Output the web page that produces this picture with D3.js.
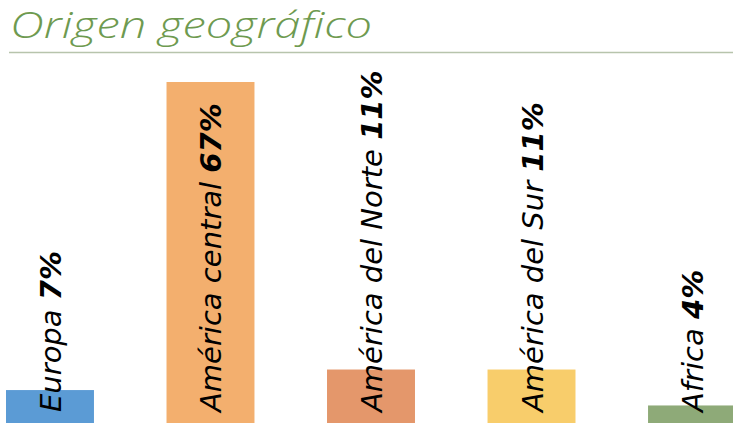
<!DOCTYPE html>
<html><head><meta charset="utf-8">
<script src="https://cdn.jsdelivr.net/npm/d3@7"></script>
<style>html,body{margin:0;padding:0;background:#fff;overflow:hidden}</style>
</head><body>
<script>
const categories = ["Europa", "América central", "América del Norte", "América del Sur", "Africa"];
const values = [7, 67, 11, 11, 4];
const valueLabels = ["7%", "67%", "11%", "11%", "4%"];
const colors = ["#5b9bd5", "#f3af6e", "#e4976b", "#f8cd6b", "#8eaa78"];
const title = "Origen geográfico";

const W = 733, H = 423;
const svg = d3.select("body").append("svg").attr("width", W).attr("height", H);

svg.append("text").attr("x", 10).attr("y", 38)
  .attr("font-family", "'Open Sans', sans-serif").attr("font-style", "italic").attr("font-weight", 300)
  .attr("font-size", 36).attr("fill", "#6e9a50")
  .attr("textLength", 362).attr("lengthAdjust", "spacingAndGlyphs").text(title);
svg.append("line").attr("x1", 9).attr("x2", W).attr("y1", 52.5).attr("y2", 52.5)
  .attr("stroke", "#b7c4ac").attr("stroke-width", 1.5);

const x = d3.scaleBand().domain(categories).range([6, 736]).paddingInner(0.452).paddingOuter(0);
const y = d3.scaleLinear().domain([0, 67]).range([426, 82]);

svg.selectAll("rect.bar").data(categories).join("rect").attr("class", "bar")
  .attr("x", d => x(d)).attr("width", x.bandwidth())
  .attr("y", (d, i) => y(values[i])).attr("height", (d, i) => y(0) - y(values[i]))
  .attr("fill", (d, i) => colors[i]);

const labels = svg.selectAll("text.lab").data(categories).join("text").attr("class", "lab")
  .attr("transform", d => `translate(${x(d) + x.bandwidth() / 2 + 11},412) rotate(-90)`)
  .attr("font-family", "'DejaVu Sans', sans-serif").attr("font-style", "italic")
  .attr("font-size", 29).attr("fill", "#000");
labels.append("tspan").text(d => d + " ");
labels.append("tspan").attr("font-weight", "bold").text((d, i) => valueLabels[i]);
</script>
</body></html>
